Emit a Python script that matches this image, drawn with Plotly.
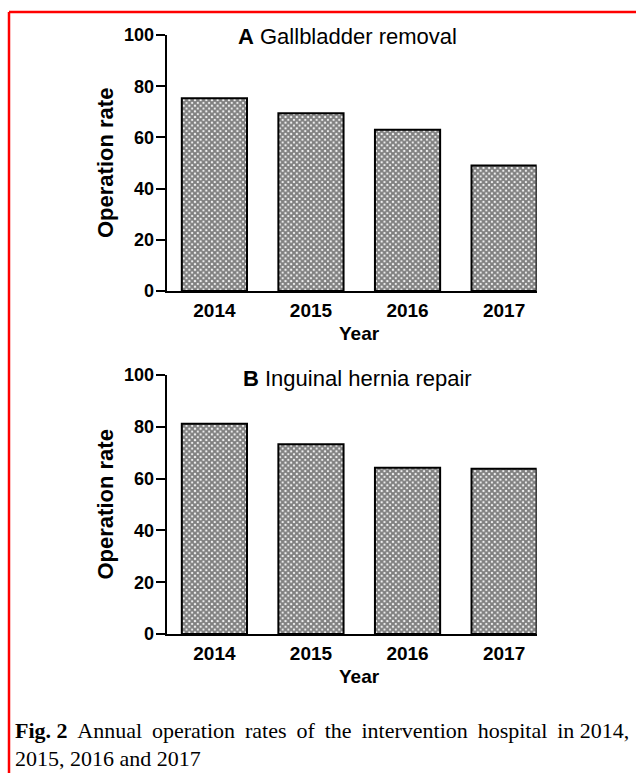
import plotly.graph_objects as go

W, H = 636, 773

years = ["2014", "2015", "2016", "2017"]
gallbladder = [75.3, 69.4, 63.0, 49.0]
hernia = [81.2, 73.3, 64.2, 63.8]
y_ticks = [0, 20, 40, 60, 80, 100]

panel_titles = ["<b>A</b> Gallbladder removal", "<b>B</b> Inguinal hernia repair"]
caption_words1 = ["Annual", "operation", "rates", "of", "the", "intervention", "hospital", "in"]
caption_line1 = "<b>Fig. 2</b>  " + " \u2009".join(caption_words1) + " 2014,"
caption_line2 = "2015, 2016 and 2017"

def px(x):
    return x / W

def py(y):
    return 1 - y / H

SANS = "Liberation Sans, Arial, sans-serif"
SERIF = "Liberation Serif, Times New Roman, serif"

fig = go.Figure()

pattern = dict(shape="x", size=4, solidity=0.78, fgcolor="black", bgcolor="white", fillmode="overlay")

for i, vals in enumerate([gallbladder, hernia]):
    xa = "x" if i == 0 else "x2"
    ya = "y" if i == 0 else "y2"
    fig.add_trace(go.Bar(
        x=years, y=vals, xaxis=xa, yaxis=ya,
        marker=dict(color="white", pattern=pattern, line=dict(color="black", width=2)),
        showlegend=False, hoverinfo="skip",
    ))

# panels: (x0, x1, y_zero_px, y_hundred_px)
panels = [(166.7, 536.7, 291, 35), (166.7, 536.7, 634, 375)]

axis_common_x = dict(
    type="category", range=[-0.494, 3.3375], showline=True, linecolor="black", linewidth=2,
    ticks="", showgrid=False, zeroline=False, ticklabelstandoff=1, automargin=False,
    tickfont=dict(family=SANS, size=19, color="black", weight="bold"), fixedrange=True,
)
axis_common_y = dict(
    range=[0, 100], tickvals=y_ticks, showline=True, linecolor="black", linewidth=2,
    ticks="outside", ticklen=9, tickwidth=2, tickcolor="black", showgrid=False, zeroline=False,
    tickfont=dict(family=SANS, size=18, color="black", weight="bold"), fixedrange=True,
    ticklabelstandoff=-2, automargin=False,
)

fig.update_layout(
    template="none",
    width=W, height=H, margin=dict(l=0, r=0, t=0, b=0, pad=0, autoexpand=False),
    paper_bgcolor="white", plot_bgcolor="white", bargap=0.325,
    xaxis=dict(domain=[px(166.7), px(536.7)], anchor="y", **axis_common_x),
    yaxis=dict(domain=[py(291), py(35)], anchor="x", **axis_common_y),
    xaxis2=dict(domain=[px(166.7), px(536.7)], anchor="y2", **axis_common_x),
    yaxis2=dict(domain=[py(634), py(375)], anchor="x2", **axis_common_y),
)

annots = []
title_pos = [(347, 37), (357, 378)]
for (tx, ty), t in zip(title_pos, panel_titles):
    annots.append(dict(x=px(tx), y=py(ty), xref="paper", yref="paper", text=t, showarrow=False,
                       xanchor="center", yanchor="middle",
                       font=dict(family=SANS, size=22, color="black")))
for (x0, x1, y0, y1) in panels:
    annots.append(dict(x=px(359), y=py(y0 + 42), xref="paper", yref="paper", text="<b>Year</b>",
                       showarrow=False, xanchor="center", yanchor="middle",
                       font=dict(family=SANS, size=19, color="black")))
    annots.append(dict(x=px(105), y=py((y0 + y1) / 2), xref="paper", yref="paper",
                       text="<b>Operation rate</b>", textangle=-90, showarrow=False,
                       xanchor="center", yanchor="middle",
                       font=dict(family=SANS, size=22, color="black")))

annots.append(dict(x=px(13), y=py(730), xref="paper", yref="paper", text=caption_line1,
                   showarrow=False, xanchor="left", yanchor="middle",
                   font=dict(family=SERIF, size=22, color="black")))
annots.append(dict(x=px(13), y=py(758), xref="paper", yref="paper", text=caption_line2,
                   showarrow=False, xanchor="left", yanchor="middle",
                   font=dict(family=SERIF, size=22, color="black")))
fig.update_layout(annotations=annots)

fig.add_shape(type="line", xref="paper", yref="paper", x0=px(9), x1=1, y0=py(12), y1=py(12),
              line=dict(color="red", width=2.5))
fig.add_shape(type="line", xref="paper", yref="paper", x0=px(9), x1=px(9), y0=py(12), y1=0,
              line=dict(color="red", width=2.5))

fig.write_html("out.html", config={"displayModeBar": False},
               post_script="document.body.style.margin='0px';document.body.style.overflow='hidden';")
